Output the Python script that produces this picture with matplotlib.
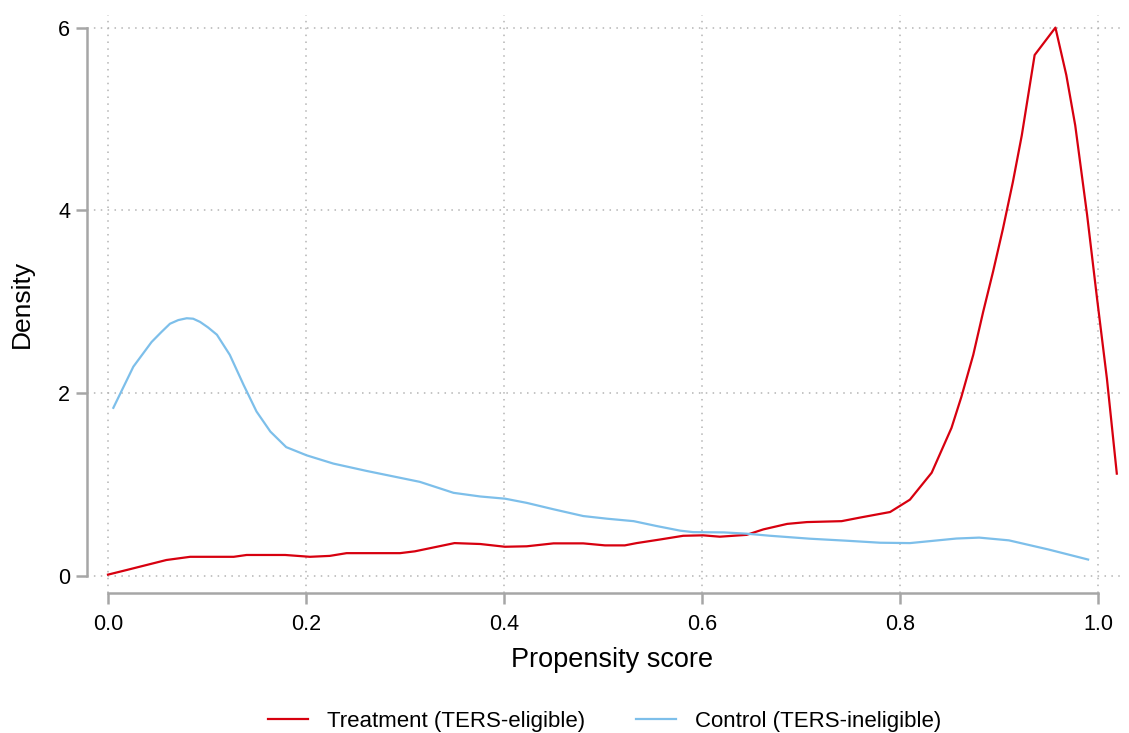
import matplotlib
matplotlib.use('Agg')
import matplotlib.pyplot as plt

# --- Data ---
treat_x = [0.0, 0.019, 0.059, 0.083, 0.103, 0.127, 0.14, 0.179, 0.204, 0.224,
           0.241, 0.295, 0.31, 0.35, 0.376, 0.401, 0.423, 0.45, 0.48, 0.502,
           0.522, 0.534, 0.558, 0.581, 0.601, 0.618, 0.645, 0.662, 0.686, 0.706,
           0.741, 0.76, 0.79, 0.81, 0.832, 0.852, 0.862, 0.874, 0.884, 0.894,
           0.904, 0.914, 0.923, 0.936, 0.957, 0.968, 0.977, 0.989, 0.999, 1.009,
           1.019]
treat_y = [0.015, 0.066, 0.175, 0.21, 0.21, 0.21, 0.23, 0.23, 0.21, 0.22,
           0.25, 0.25, 0.27, 0.36, 0.35, 0.32, 0.325, 0.357, 0.357, 0.335,
           0.335, 0.36, 0.40, 0.44, 0.445, 0.43, 0.45, 0.51, 0.57, 0.59,
           0.60, 0.64, 0.70, 0.835, 1.13, 1.62, 1.96, 2.42, 2.89, 3.33,
           3.80, 4.31, 4.82, 5.70, 6.0, 5.48, 4.93, 3.95, 3.04, 2.16,
           1.12]

ctrl_x = [0.0054, 0.0256, 0.044, 0.054, 0.0626, 0.071, 0.0795, 0.086, 0.093, 0.101,
          0.110, 0.123, 0.137, 0.150, 0.164, 0.180, 0.2007, 0.2276, 0.261, 0.288,
          0.315, 0.349, 0.376, 0.401, 0.423, 0.45, 0.48, 0.504, 0.531, 0.554,
          0.578, 0.591, 0.622, 0.645, 0.669, 0.709, 0.746, 0.78, 0.81, 0.857,
          0.88, 0.91, 0.95, 0.99]
ctrl_y = [1.84, 2.29, 2.56, 2.67, 2.76, 2.80, 2.82, 2.815, 2.78, 2.72,
          2.64, 2.42, 2.09, 1.80, 1.58, 1.41, 1.32, 1.23, 1.15, 1.09,
          1.03, 0.91, 0.87, 0.846, 0.80, 0.73, 0.656, 0.627, 0.60, 0.547,
          0.496, 0.48, 0.477, 0.463, 0.44, 0.408, 0.386, 0.364, 0.36, 0.41,
          0.42, 0.39, 0.29, 0.18]

x_ticks = [0.0, 0.2, 0.4, 0.6, 0.8, 1.0]
x_tick_labels = ['0.0', '0.2', '0.4', '0.6', '0.8', '1.0']
y_ticks = [0, 2, 4, 6]

# --- Style ---
RED = '#d7000f'
BLUE = '#7dbfea'
AXIS_GRAY = '#a6a6a6'
GRID_GRAY = '#b4b4b4'
plt.rcParams['font.family'] = ['Liberation Sans', 'DejaVu Sans']

W, H = 1129, 733
fig = plt.figure(figsize=(W / 100, H / 100), dpi=100)
fig.patch.set_facecolor('white')

# axes placed in pixel terms
ax_l, ax_r, ax_b, ax_t = 87, 1125, 593, 15
ax = fig.add_axes([ax_l / W, (H - ax_b) / H, (ax_r - ax_l) / W, (ax_b - ax_t) / H])

ax.plot(treat_x, treat_y, color=RED, linewidth=1.6, label='Treatment (TERS-eligible)', zorder=3)
ax.plot(ctrl_x, ctrl_y, color=BLUE, linewidth=1.6, label='Control (TERS-ineligible)', zorder=3)

# limits chosen so that 0 -> px 108, 1 -> px 1098 ; 0 -> py 576, 6 -> py 28
ax.set_xlim(-21 / 990, (ax_r - 108) / 990)
ax.set_ylim(-17 / 91.4, (576 - ax_t) / 91.4)

ax.set_xticks(x_ticks)
ax.set_xticklabels(x_tick_labels)
ax.set_yticks(y_ticks)

for s in ['top', 'right']:
    ax.spines[s].set_visible(False)
for s in ['left', 'bottom']:
    ax.spines[s].set_color(AXIS_GRAY)
    ax.spines[s].set_linewidth(1.8)
ax.spines['left'].set_bounds(0, 6)
ax.spines['bottom'].set_bounds(0, 1.0)

ax.tick_params(axis='both', direction='out', length=8, width=1.8, color=AXIS_GRAY,
               labelsize=15.5, labelcolor='black')
ax.tick_params(axis='x', pad=7)
ax.tick_params(axis='y', pad=4)

ax.grid(True, color=GRID_GRAY, linestyle=(0, (1, 3.5)), linewidth=1.1, zorder=0)
ax.set_axisbelow(True)

ax.set_xlabel('Propensity score', fontsize=19.5)
ax.set_ylabel('Density', fontsize=19)
ax.xaxis.set_label_coords((612 - ax_l) / (ax_r - ax_l), -(660 - ax_b) / (ax_b - ax_t))
ax.xaxis.label.set_va('center')
ax.yaxis.set_label_coords(-(87 - 22) / (ax_r - ax_l), 0.5)
ax.yaxis.label.set_va('center')

leg = ax.legend(loc='center', bbox_to_anchor=((605 - ax_l) / (ax_r - ax_l), -(721 - ax_b) / (ax_b - ax_t)),
                ncol=2, frameon=False, fontsize=16, handlelength=1.8, columnspacing=2.3,
                handletextpad=0.85)

fig.savefig('out.png', dpi=100, facecolor='white')
plt.close(fig)
